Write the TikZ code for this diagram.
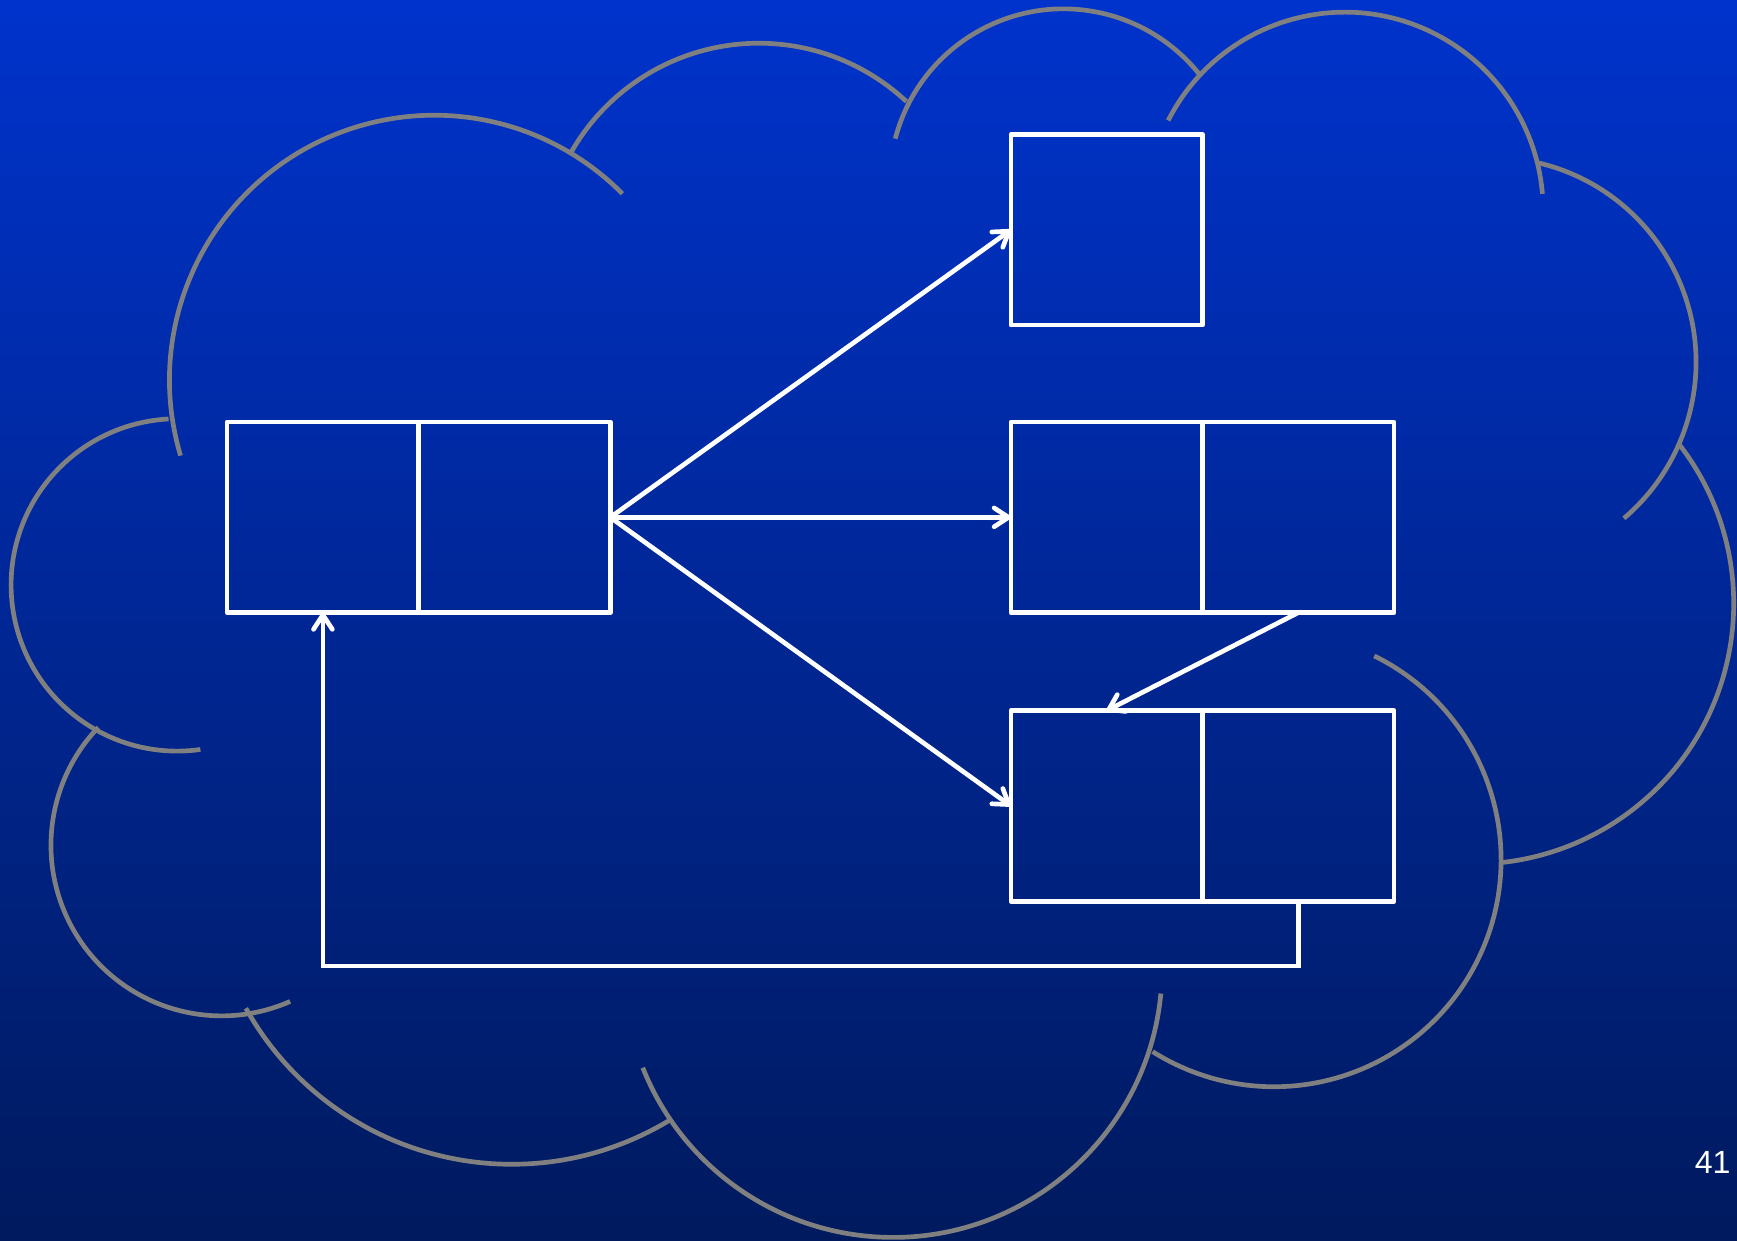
\documentclass[tikz,border=0pt]{standalone}
\usepackage{fontspec}
\setmainfont{Liberation Sans}
\usepackage{tikz}
\usetikzlibrary{arrows.meta, positioning}
\definecolor{bgtop}{RGB}{0,51,204}
\definecolor{bgbot}{RGB}{0,26,94}
\definecolor{cloudgray}{RGB}{128,128,128}
\tikzset{
  cell/.style={rectangle, draw=white, line width=2.4pt, line join=round,
    minimum width=3.46cm, minimum height=3.44cm, inner sep=0pt, outer sep=0pt},
  ptr/.style={-{Straight Barb[length=2.6mm, width=3.4mm, round]}, draw=white, line width=2.4pt},
  puff/.style={draw=cloudgray, line width=2.4pt}
}

\begin{document}
\begin{tikzpicture}[x=0.02cm, y=-0.02cm]
  % Background, top to bottom
  \shade[top color=bgtop, bottom color=bgbot] (0,0) rectangle (1568,1120);
  \useasboundingbox (0,0) rectangle (1568,1120);

  % Cloud outline, one arc per puff (clockwise from the upper left)
  \draw[puff] (392,343) ++(163.4:239) arc[start angle=163.4, end angle=315.3, radius=239];
  \draw[puff] (685,234) ++(209.9:195) arc[start angle=209.9, end angle=313.1, radius=195];
  \draw[puff] (960,165) ++(194.7:157) arc[start angle=194.7, end angle=321.7, radius=157];
  \draw[puff] (1214,190) ++(207:179) arc[start angle=207, end angle=355.2, radius=179];
  \draw[puff] (1346,327) ++(283.5:185) arc[start angle=283.5, end angle=409.6, radius=185];
  \draw[puff] (1330,545) ++(-37.8:235) arc[start angle=-37.8, end angle=83.7, radius=235];
  \draw[puff] (1150,776) ++(-63.8:205) arc[start angle=-63.8, end angle=122.3, radius=205];
  \draw[puff] (806,874) ++(5.4:243) arc[start angle=5.4, end angle=158.3, radius=243];
  \draw[puff] (462,776) ++(58.8:275) arc[start angle=58.8, end angle=150.8, radius=275];
  \draw[puff] (200,763) ++(66.3:154) arc[start angle=66.3, end angle=223.7, radius=154];
  \draw[puff] (160,528) ++(82:150) arc[start angle=82, end angle=267, radius=150];

  % Cells
  \node[cell] (leftA) at (291.5,467) {};
  \node[cell, right=0pt of leftA] (leftB) {};
  \node[cell] (topbox) at (999,207.5) {};
  \node[cell] (midA) at (999,467) {};
  \node[cell, right=0pt of midA] (midB) {};
  \node[cell] (botA) at (999,727.5) {};
  \node[cell, right=0pt of botA] (botB) {};

  % Pointers
  \draw[ptr] (leftB.east) -- (topbox.west);
  \draw[ptr] (leftB.east) -- (midA.west);
  \draw[ptr] (leftB.east) -- (botA.west);
  \draw[ptr] (midB.south) -- (botA.north);
  \coordinate (turn) at (botB.south |- 0,872);
  \draw[ptr] (botB.south) -- (turn) -| (leftA.south);

  % Page number
  \node[text=white, font=\fontsize{16.5}{19}\selectfont] (pagenum) at (1546,1049) {41};
\end{tikzpicture}
\end{document}
